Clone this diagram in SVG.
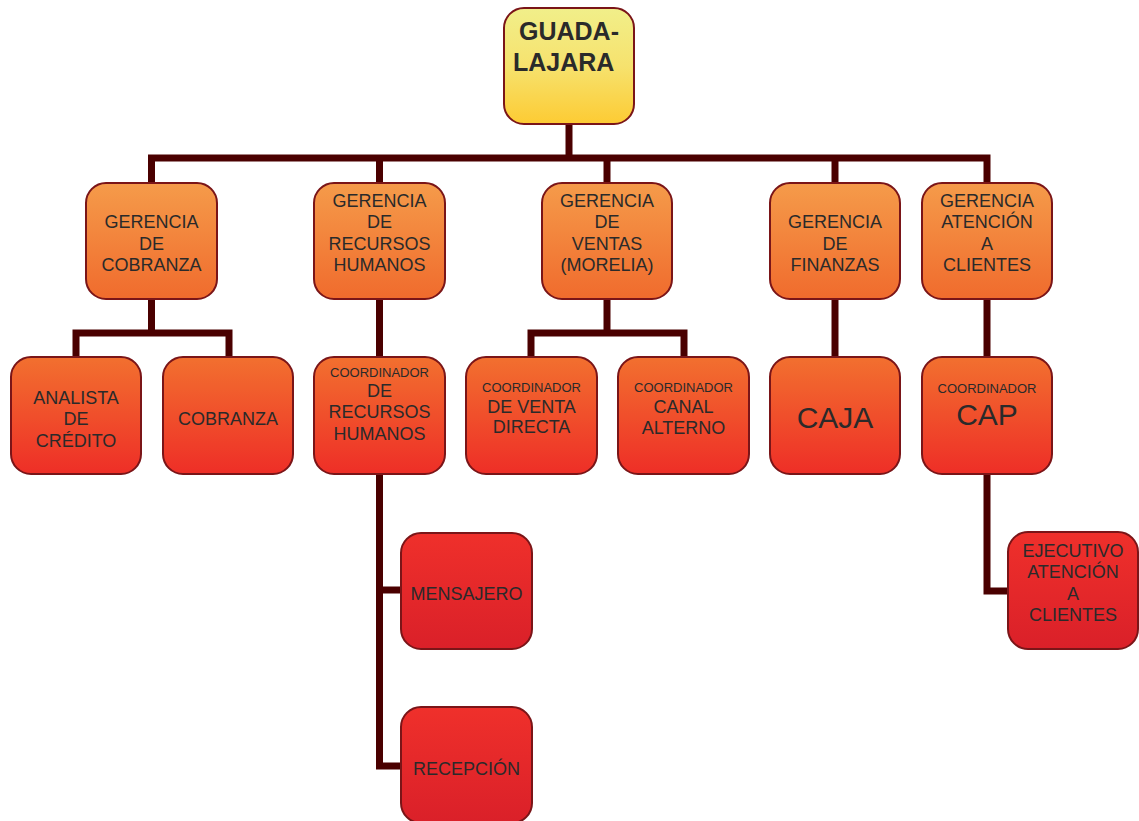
<svg xmlns="http://www.w3.org/2000/svg" width="1139" height="821" viewBox="0 0 1139 821">
  <defs>
    <linearGradient id="gTop" x1="0" y1="0" x2="0" y2="1">
      <stop offset="0" stop-color="#F1EF8A"/>
      <stop offset="0.5" stop-color="#F6E26E"/>
      <stop offset="1" stop-color="#FDCB33"/>
    </linearGradient>
    <linearGradient id="g2" x1="0" y1="0" x2="0" y2="1">
      <stop offset="0" stop-color="#F59B4A"/>
      <stop offset="1" stop-color="#F06B2D"/>
    </linearGradient>
    <linearGradient id="g3" x1="0" y1="0" x2="0" y2="1">
      <stop offset="0" stop-color="#F2702F"/>
      <stop offset="1" stop-color="#EE2E27"/>
    </linearGradient>
    <linearGradient id="g4" x1="0" y1="0" x2="0" y2="1">
      <stop offset="0" stop-color="#EF302B"/>
      <stop offset="1" stop-color="#DA2029"/>
    </linearGradient>
  </defs>
  <style>
    .box { stroke: #7A1518; stroke-width: 2; }
    .l1 { fill: url(#gTop); }
    .l2 { fill: url(#g2); }
    .l3 { fill: url(#g3); }
    .l4 { fill: url(#g4); }
    text { font-family: "Liberation Sans", Arial, sans-serif; fill: #2A2A2A; text-anchor: middle; }
    .t { font-size: 18px; }
    .s { font-size: 13px; }
    .b { font-size: 25px; font-weight: bold; text-anchor: start; }
    .xl { font-size: 30px; }
    .conn path { fill: none; stroke: #4A0000; stroke-width: 7; stroke-linejoin: miter; }
  </style>
  <rect width="1139" height="821" fill="#FFFFFF"/>

  <g id="connectors" class="conn">
    <path d="M569 124 V158"/>
    <path d="M151.5 183 V158 H987 V183"/>
    <path d="M379.5 158 V183"/>
    <path d="M607 158 V183"/>
    <path d="M835 158 V183"/>
    <path d="M151.5 299 V333"/>
    <path d="M76 357 V333 H229 V357"/>
    <path d="M379.5 299 V357"/>
    <path d="M379.5 474 V766 H401"/>
    <path d="M379.5 590 H401"/>
    <path d="M607 299 V333"/>
    <path d="M531 357 V333 H684 V357"/>
    <path d="M835 299 V357"/>
    <path d="M987 299 V357"/>
    <path d="M987 474 V591 H1008"/>
  </g>

  <g id="guadalajara">
    <rect class="box l1" x="504" y="8" width="130" height="116" rx="20"/>
    <text class="b" x="519" y="40">GUADA-</text>
    <text class="b" x="513" y="71">LAJARA</text>
  </g>

  <g id="gerencia-cobranza">
    <rect class="box l2" x="86" y="183" width="131" height="116" rx="20"/>
    <text class="t" x="151.5" y="228">GERENCIA</text>
    <text class="t" x="151.5" y="250">DE</text>
    <text class="t" x="151.5" y="271">COBRANZA</text>
  </g>
  <g id="gerencia-rrhh">
    <rect class="box l2" x="314" y="183" width="131" height="116" rx="20"/>
    <text class="t" x="379.5" y="207">GERENCIA</text>
    <text class="t" x="379.5" y="228">DE</text>
    <text class="t" x="379.5" y="250">RECURSOS</text>
    <text class="t" x="379.5" y="271">HUMANOS</text>
  </g>
  <g id="gerencia-ventas">
    <rect class="box l2" x="542" y="183" width="130" height="116" rx="20"/>
    <text class="t" x="607" y="207">GERENCIA</text>
    <text class="t" x="607" y="228">DE</text>
    <text class="t" x="607" y="250">VENTAS</text>
    <text class="t" x="607" y="271">(MORELIA)</text>
  </g>
  <g id="gerencia-finanzas">
    <rect class="box l2" x="770" y="183" width="130" height="116" rx="20"/>
    <text class="t" x="835" y="228">GERENCIA</text>
    <text class="t" x="835" y="250">DE</text>
    <text class="t" x="835" y="271">FINANZAS</text>
  </g>
  <g id="gerencia-atencion">
    <rect class="box l2" x="922" y="183" width="130" height="116" rx="20"/>
    <text class="t" x="987" y="207">GERENCIA</text>
    <text class="t" x="987" y="228">ATENCIÓN</text>
    <text class="t" x="987" y="250">A</text>
    <text class="t" x="987" y="271">CLIENTES</text>
  </g>

  <g id="analista-credito">
    <rect class="box l3" x="11" y="357" width="130" height="117" rx="20"/>
    <text class="t" x="76" y="404">ANALISTA</text>
    <text class="t" x="76" y="425">DE</text>
    <text class="t" x="76" y="447">CRÉDITO</text>
  </g>
  <g id="cobranza">
    <rect class="box l3" x="163" y="357" width="130" height="117" rx="20"/>
    <text class="t" x="228" y="425">COBRANZA</text>
  </g>
  <g id="coordinador-rrhh">
    <rect class="box l3" x="314" y="357" width="131" height="117" rx="20"/>
    <text class="s" x="379.5" y="377">COORDINADOR</text>
    <text class="t" x="379.5" y="397">DE</text>
    <text class="t" x="379.5" y="418">RECURSOS</text>
    <text class="t" x="379.5" y="440">HUMANOS</text>
  </g>
  <g id="coordinador-venta-directa">
    <rect class="box l3" x="466" y="357" width="131" height="117" rx="20"/>
    <text class="s" x="531.5" y="392">COORDINADOR</text>
    <text class="t" x="531.5" y="413">DE VENTA</text>
    <text class="t" x="531.5" y="433">DIRECTA</text>
  </g>
  <g id="coordinador-canal-alterno">
    <rect class="box l3" x="618" y="357" width="131" height="117" rx="20"/>
    <text class="s" x="683.5" y="392">COORDINADOR</text>
    <text class="t" x="683.5" y="413">CANAL</text>
    <text class="t" x="683.5" y="434">ALTERNO</text>
  </g>
  <g id="caja">
    <rect class="box l3" x="770" y="357" width="130" height="117" rx="20"/>
    <text class="xl" x="835" y="428">CAJA</text>
  </g>
  <g id="coordinador-cap">
    <rect class="box l3" x="922" y="357" width="130" height="117" rx="20"/>
    <text class="s" x="987" y="393">COORDINADOR</text>
    <text class="xl" x="987" y="425">CAP</text>
  </g>

  <g id="mensajero">
    <rect class="box l4" x="401" y="533" width="131" height="116" rx="20"/>
    <text class="t" x="466.5" y="600">MENSAJERO</text>
  </g>
  <g id="recepcion">
    <rect class="box l4" x="401" y="707" width="131" height="116" rx="20"/>
    <text class="t" x="466.5" y="775">RECEPCIÓN</text>
  </g>
  <g id="ejecutivo-atencion">
    <rect class="box l4" x="1008" y="532" width="130" height="117" rx="20"/>
    <text class="t" x="1073" y="557">EJECUTIVO</text>
    <text class="t" x="1073" y="578">ATENCIÓN</text>
    <text class="t" x="1073" y="600">A</text>
    <text class="t" x="1073" y="621">CLIENTES</text>
  </g>
</svg>
